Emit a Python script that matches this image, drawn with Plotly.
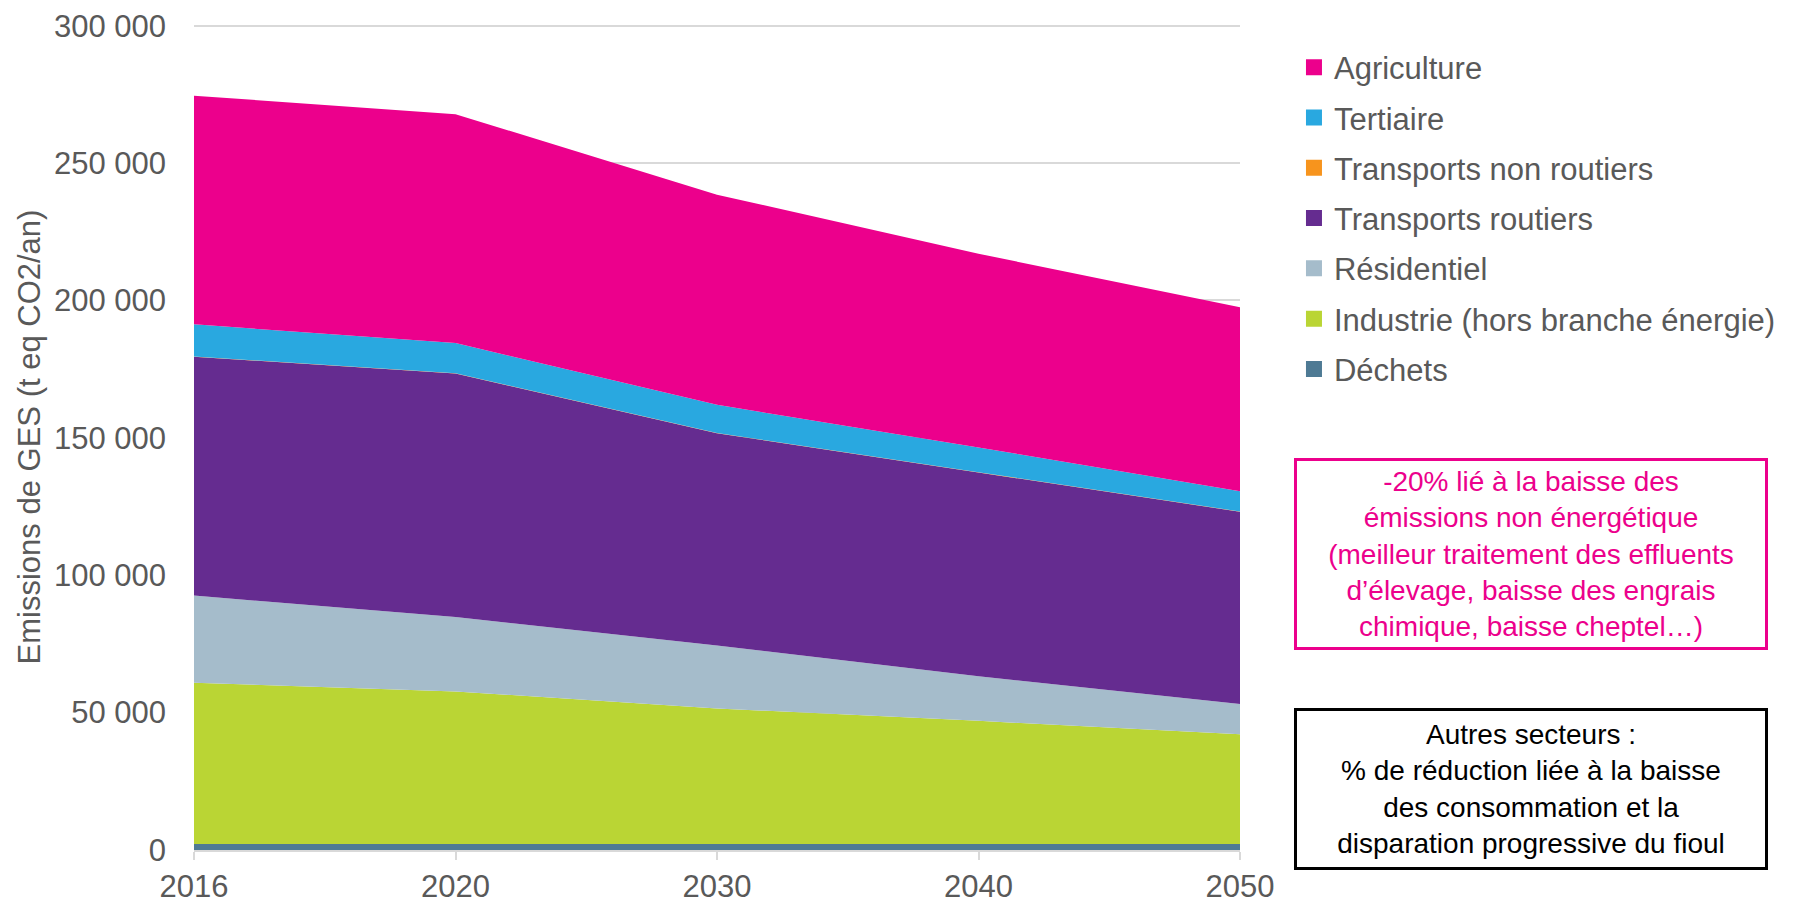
import plotly.graph_objects as go

years = ["2016", "2020", "2030", "2040", "2050"]
dechets = [2200, 2200, 2200, 2200, 2200]
industrie = [58700, 55500, 49300, 44800, 39900]
residentiel = [31700, 27100, 22900, 16200, 11000]
transports_routiers = [86900, 88600, 77300, 74200, 70000]
transports_non_routiers = [100, 100, 100, 100, 100]
tertiaire = [11700, 11000, 10200, 9000, 7400]
agriculture = [83200, 83300, 76500, 70500, 66900]

series = [
    ("Déchets", dechets, "#4E7A94"),
    ("Industrie (hors branche énergie)", industrie, "#BAD534"),
    ("Résidentiel", residentiel, "#A5BCCB"),
    ("Transports routiers", transports_routiers, "#652C90"),
    ("Transports non routiers", transports_non_routiers, "#F7941D"),
    ("Tertiaire", tertiaire, "#29A8E0"),
    ("Agriculture", agriculture, "#EC008C"),
]

FONT = "Liberation Sans, Arial, sans-serif"
GRAY = "#595959"

fig = go.Figure()
for name, vals, color in series:
    fig.add_trace(go.Scatter(
        x=years, y=vals, name=name, stackgroup="one", mode="none",
        fillcolor=color, line=dict(width=0), showlegend=False,
        hoverinfo="x+y+name",
    ))
for i, (name, vals, color) in enumerate(reversed(series)):
    fig.add_trace(go.Scatter(
        x=[None], y=[None], name=name, mode="markers",
        marker=dict(symbol="square", size=16, color=color, line=dict(width=0)),
        legendgroup=f"g{i}", showlegend=True, hoverinfo="skip",
    ))

fig.update_layout(
    width=1793, height=904,
    margin=dict(l=194, r=553, t=24, b=54, autoexpand=False),
    paper_bgcolor="white", plot_bgcolor="white",
    separators=", ",
    font=dict(family=FONT, size=31, color=GRAY),
    legend=dict(
        x=1.0516, y=0.980, xanchor="left", yanchor="top",
        traceorder="grouped", tracegroupgap=7,
        font=dict(size=31, color=GRAY), itemwidth=30,
        bgcolor="rgba(0,0,0,0)",
    ),
    xaxis=dict(
        type="category", range=[0, 4], showgrid=False, automargin=False,
        showline=True, linecolor="#D9D9D9", linewidth=1.5,
        ticks="outside", ticklen=8, tickcolor="#D9D9D9", tickwidth=1.5,
        ticklabelstandoff=0,
        tickfont=dict(size=31, color=GRAY),
    ),
    yaxis=dict(
        range=[0, 300600], tickvals=[0, 50000, 100000, 150000, 200000, 250000, 300000],
        tickformat=",d", automargin=False,
        showgrid=True, gridcolor="#D9D9D9", gridwidth=1.5,
        zeroline=False, showline=False, ticks="",
        ticklabelstandoff=27,
        tickfont=dict(size=31, color=GRAY),
        title=dict(text="Emissions de GES (t eq CO2/an)", standoff=4,
                   font=dict(size=31, color=GRAY)),
    ),
)

fig.add_annotation(
    xref="paper", yref="paper", x=1.278, y=0.3587,
    xanchor="center", yanchor="middle", showarrow=False,
    text=("-20% lié à la baisse des<br>émissions non énergétique<br>"
          "(meilleur traitement des effluents<br>d’élevage, baisse des engrais<br>"
          "chimique, baisse cheptel…)"),
    font=dict(family=FONT, size=28, color="#EC008C"),
    align="center", width=468, height=186,
    bordercolor="#EC008C", borderwidth=3, borderpad=0, bgcolor="white",
)
fig.add_annotation(
    xref="paper", yref="paper", x=1.278, y=0.0734,
    xanchor="center", yanchor="middle", showarrow=False,
    text=("Autres secteurs :<br>% de réduction liée à la baisse<br>"
          "des consommation et la<br>disparation progressive du fioul"),
    font=dict(family=FONT, size=28, color="black"),
    align="center", width=468, height=156,
    bordercolor="black", borderwidth=3, borderpad=0, bgcolor="white",
)

# remove the default 8px page margin and scrollbars so the figure fills the window
fig.write_html(
    "out.html",
    config={"displayModeBar": False},
    post_script="document.body.style.margin='0';document.body.style.overflow='hidden';"
                "document.documentElement.style.overflow='hidden';",
)
